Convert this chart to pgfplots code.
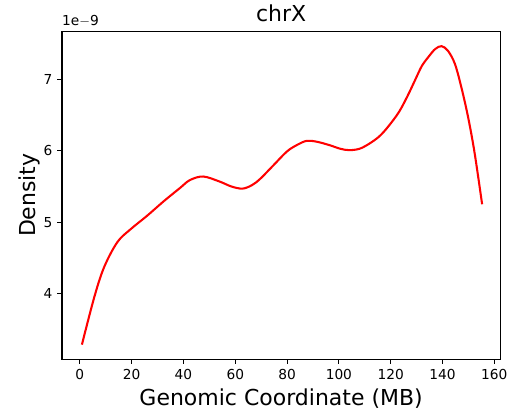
\documentclass[border=0pt]{standalone}
\usepackage{fontspec}
\setmainfont{DejaVu Sans}
\usepackage{pgfplots}
\pgfplotsset{compat=1.18}
\begin{document}
\begin{tikzpicture}[x=1pt,y=1pt]
\begin{axis}[
    scale only axis,
    width=319pt, height=238.7pt,
    xmin=-6.9, xmax=162.3,
    ymin=3.076, ymax=7.68,
    xtick={0,20,40,60,80,100,120,140,160},
    ytick={4,5,6,7},
    tick align=outside,
    tick pos=lower,
    major tick length=3.5pt,
    axis line style={line width=0.8pt},
    every tick/.style={black, line width=0.8pt},
    /pgf/number format/assume math mode=true,
    tick label style={font=\fontsize{10}{12}\selectfont},
    xlabel={Genomic Coordinate (MB)},
    ylabel={Density},
    label style={font=\fontsize{16}{19}\selectfont},
    xlabel style={yshift=0pt},
    ylabel style={yshift=-4.5pt},
    title={chrX},
    title style={font=\fontsize{16}{19}\selectfont, yshift=-3pt},
    clip=false,
]
\addplot[red, line width=1.5pt, smooth, tension=0.55] coordinates {
(0.8,3.28) (5.6,3.95) (9.4,4.37) (14.5,4.72) (19.6,4.90) (26,5.09)
(32.3,5.29) (38.7,5.48) (42.5,5.59) (47.6,5.64) (53.9,5.57) (58.5,5.50)
(62.8,5.47) (66.5,5.52) (69.7,5.61) (74.8,5.80) (79.9,5.99) (83.7,6.08)
(87.5,6.14) (91.3,6.13) (96.4,6.08) (100.5,6.03) (104,6.01) (108,6.03)
(111.7,6.10) (115.5,6.20) (118.8,6.33) (123.1,6.54) (126.5,6.77)
(129.5,7.00) (132,7.19) (134.6,7.32) (137.2,7.43) (139.7,7.47)
(142.2,7.40) (144.8,7.22) (147.3,6.89) (149.9,6.47) (152.4,5.97) (155.3,5.25)
};
\node[anchor=south west, font=\fontsize{10}{12}\selectfont, inner sep=0pt]
  at (rel axis cs:0,1) [yshift=3pt] {1e$-$9};
\end{axis}
\useasboundingbox (-45.1pt,-36.7pt) rectangle (323.5pt,261.4pt);
\end{tikzpicture}
\end{document}
